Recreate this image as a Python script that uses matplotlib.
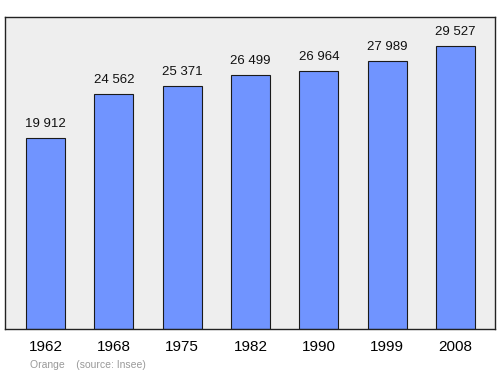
import numpy as np
import matplotlib.pyplot as plt

plt.rcParams['font.family'] = ['Liberation Sans', 'DejaVu Sans']

years = ['1962', '1968', '1975', '1982', '1990', '1999', '2008']
population = [19912, 24562, 25371, 26499, 26964, 27989, 29527]
labels = ['19 912', '24 562', '25 371', '26 499', '26 964', '27 989', '29 527']

fig = plt.figure(figsize=(5, 3.74), dpi=100)
ax = fig.add_axes([0.01, 0.1203, 0.98, 0.8342])
ax.set_facecolor('#eeeeee')

x = np.arange(len(years))
ax.bar(x, population, width=0.57, color='#7094ff', edgecolor='#1a1a1a', linewidth=0.8, zorder=2)

for xi, v, lab in zip(x, population, labels):
    ax.annotate(lab, (xi, v), xytext=(0, 6), textcoords='offset points',
                ha='center', va='bottom', fontsize=9.5, color='#111111')

ax.set_xlim(-0.593, 6.58)
ax.set_ylim(0, 32600)
ax.set_yticks([])
ax.set_xticks(x)
ax.set_xticklabels(years, fontsize=11)
ax.tick_params(axis='x', length=0, pad=8)
for s in ax.spines.values():
    s.set_color('#222222')
    s.set_linewidth(1.0)

fig.text(0.06, 0.016, 'Orange    (source: Insee)', fontsize=7.5, color='#999999')

fig.savefig('out.png', dpi=100)
